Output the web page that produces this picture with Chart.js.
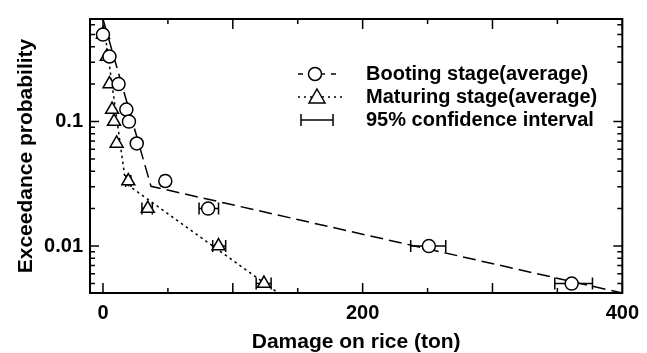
<!DOCTYPE html>
<html>
<head>
<meta charset="utf-8">
<script src="https://cdn.jsdelivr.net/npm/chart.js@4/dist/chart.umd.min.js"></script>
<style>
  html, body { margin: 0; padding: 0; background: #fff; }
  #wrap { width: 647px; height: 353px; }
</style>
</head>
<body>
<div id="wrap"><canvas id="exceedChart" width="647" height="353"></canvas></div>
<script>
// exceedance probability for each return period (2..200 years)
const probability = [0.5, 0.333, 0.2, 0.125, 0.1, 0.0667, 0.0333, 0.02, 0.01, 0.005];

// booting stage: average damage and 95% interval (ton)
const bootingDamage = [0, 5, 12, 18, 20, 26, 48, 81, 251, 361];
const bootingLow    = [0, 5, 12, 18, 20, 26, 45, 74, 237, 348];
const bootingHigh   = [0, 5, 12, 18, 20, 26, 51, 89, 264, 377];

// maturing stage
const maturingDamage = [0, 3, 5, 7, 8.5, 10.5, 19.5, 34.5, 89, 124];
const maturingLow    = [0, 3, 5, 7, 8.5, 10.5, 17.5, 30, 84.5, 118];
const maturingHigh   = [0, 3, 5, 7, 8.5, 10.5, 21.5, 38, 94.5, 129.5];

// fitted curves (two straight pieces each on log scale)
const bootingFitX  = [0, 37, 400];
const bootingFitY  = [0.667, 0.0302, 0.0042];
const maturingFitX = [0, 17.5, 140];
const maturingFitY = [0.667, 0.0319, 0.00385];

const xTicks = [0, 50, 100, 150, 200, 250, 300, 350, 400];
const xLabels = [0, 200, 400];
const yLabels = [0.01, 0.1];

const FONT = 'Liberation Sans, Arial, sans-serif';

function pts(xs, ys) {
  return xs.map((x, i) => ({ x: x, y: ys[i] }));
}

const errorBars = {
  id: 'errorBars',
  beforeDatasetsDraw(chart) {
    const c = chart.ctx, xs = chart.scales.x, ys = chart.scales.y;
    c.save();
    c.strokeStyle = '#000';
    c.lineWidth = 1.5;
    const sets = [[bootingLow, bootingHigh], [maturingLow, maturingHigh]];
    sets.forEach(([lo, hi]) => {
      probability.forEach((p, i) => {
        if (hi[i] - lo[i] <= 0) return;
        const y = ys.getPixelForValue(p);
        const x1 = xs.getPixelForValue(lo[i]), x2 = xs.getPixelForValue(hi[i]);
        c.beginPath();
        c.moveTo(x1, y); c.lineTo(x2, y);
        c.moveTo(x1, y - 6); c.lineTo(x1, y + 6);
        c.moveTo(x2, y - 6); c.lineTo(x2, y + 6);
        c.stroke();
      });
    });
    c.restore();
  }
};

const frame = {
  id: 'frame',
  afterDraw(chart) {
    const c = chart.ctx, a = chart.chartArea;
    const xs = chart.scales.x, ys = chart.scales.y;
    c.save();
    c.strokeStyle = '#000';
    c.lineWidth = 2;
    c.strokeRect(a.left, a.top, a.right - a.left, a.bottom - a.top);
    c.lineWidth = 1.5;
    c.beginPath();
    xTicks.forEach(v => {
      const x = xs.getPixelForValue(v);
      const len = v % 100 === 0 ? 10 : 5;
      c.moveTo(x, a.bottom); c.lineTo(x, a.bottom - len);
      c.moveTo(x, a.top); c.lineTo(x, a.top + len);
    });
    for (let e = -3; e <= 0; e++) {
      for (let k = 1; k <= 9; k++) {
        const v = k * Math.pow(10, e);
        if (v < ys.min || v > ys.max) continue;
        const y = ys.getPixelForValue(v);
        const len = k === 1 ? 9 : 5;
        c.moveTo(a.left, y); c.lineTo(a.left + len, y);
        c.moveTo(a.right, y); c.lineTo(a.right - len, y);
      }
    }
    c.stroke();
    c.restore();
  }
};

const legendBox = {
  id: 'legendBox',
  afterDraw(chart) {
    const c = chart.ctx;
    c.save();
    c.strokeStyle = '#000';
    c.fillStyle = '#000';
    c.lineWidth = 1.5;
    const rows = [74, 97, 120];
    const x0 = 298, x1 = 342, tx = 366;
    c.setLineDash([5, 6]);
    c.beginPath(); c.moveTo(x0, rows[0]); c.lineTo(x1, rows[0]); c.stroke();
    c.setLineDash([2, 4]);
    c.beginPath(); c.moveTo(x0, rows[1]); c.lineTo(x1, rows[1]); c.stroke();
    c.setLineDash([]);
    c.fillStyle = '#fff';
    c.beginPath(); c.arc(315, rows[0], 6.5, 0, Math.PI * 2); c.fill(); c.stroke();
    c.beginPath();
    c.moveTo(317, rows[1] - 8); c.lineTo(325, rows[1] + 6); c.lineTo(309, rows[1] + 6); c.closePath();
    c.fill(); c.stroke();
    c.beginPath();
    c.moveTo(301, rows[2]); c.lineTo(333, rows[2]);
    c.moveTo(301, rows[2] - 6); c.lineTo(301, rows[2] + 6);
    c.moveTo(333, rows[2] - 6); c.lineTo(333, rows[2] + 6);
    c.stroke();
    c.fillStyle = '#000';
    c.font = 'bold 20px ' + FONT;
    c.textBaseline = 'middle';
    c.fillText('Booting stage(average)', tx, rows[0]);
    c.fillText('Maturing stage(average)', tx, rows[1]);
    c.fillText('95% confidence interval', tx, rows[2]);
    c.restore();
  }
};

const ctx = document.getElementById('exceedChart').getContext('2d');
const exceedChart = new Chart(ctx, {
  type: 'scatter',
  data: {
    datasets: [
      {
        label: 'Booting stage(average)',
        data: pts(bootingDamage, probability),
        pointStyle: 'circle',
        pointRadius: 6.5,
        pointBackgroundColor: '#fff',
        pointBorderColor: '#000',
        pointBorderWidth: 1.5,
        showLine: false
      },
      {
        label: 'Maturing stage(average)',
        data: pts(maturingDamage, probability),
        pointStyle: 'triangle',
        pointRadius: 7.5,
        pointBackgroundColor: '#fff',
        pointBorderColor: '#000',
        pointBorderWidth: 1.5,
        showLine: false
      },
      {
        label: 'booting fit',
        data: pts(bootingFitX, bootingFitY),
        showLine: true,
        borderColor: '#000',
        borderWidth: 1.5,
        borderDash: [13, 6],
        pointRadius: 0,
        fill: false
      },
      {
        label: 'maturing fit',
        data: pts(maturingFitX, maturingFitY),
        showLine: true,
        borderColor: '#000',
        borderWidth: 1.5,
        borderDash: [2.5, 3.5],
        pointRadius: 0,
        fill: false
      }
    ]
  },
  options: {
    responsive: false,
    animation: false,
    layout: { padding: { left: 0, right: 18, top: 17, bottom: 0 } },
    plugins: {
      legend: { display: false },
      tooltip: { enabled: false }
    },
    scales: {
      x: {
        type: 'linear',
        min: -10,
        max: 400,
        grid: { display: false, drawTicks: false },
        border: { display: false },
        afterBuildTicks(scale) {
          scale.ticks = xLabels.map(v => ({ value: v }));
        },
        afterFit(scale) { scale.height = 60; },
        ticks: {
          color: '#000',
          padding: 8,
          maxRotation: 0,
          font: { family: FONT, size: 20, weight: 'bold' },
          callback: v => String(v)
        },
        title: {
          display: true,
          text: 'Damage on rice (ton)',
          color: '#000',
          padding: 0,
          font: { family: FONT, size: 21, weight: 'bold', lineHeight: 1.0 }
        }
      },
      y: {
        type: 'logarithmic',
        min: 0.0042,
        max: 0.667,
        grid: { display: false, drawTicks: false },
        border: { display: false },
        afterBuildTicks(scale) {
          scale.ticks = yLabels.map(v => ({ value: v }));
        },
        afterFit(scale) { scale.width = 90; },
        ticks: {
          color: '#000',
          padding: 7,
          font: { family: FONT, size: 20, weight: 'bold' },
          callback: v => String(v)
        },
        title: {
          display: true,
          text: 'Exceedance probability',
          color: '#000',
          padding: { top: 16, bottom: 0 },
          font: { family: FONT, size: 21, weight: 'bold', lineHeight: 1.0 }
        }
      }
    }
  },
  plugins: [errorBars, frame, legendBox]
});
</script>
</body>
</html>
